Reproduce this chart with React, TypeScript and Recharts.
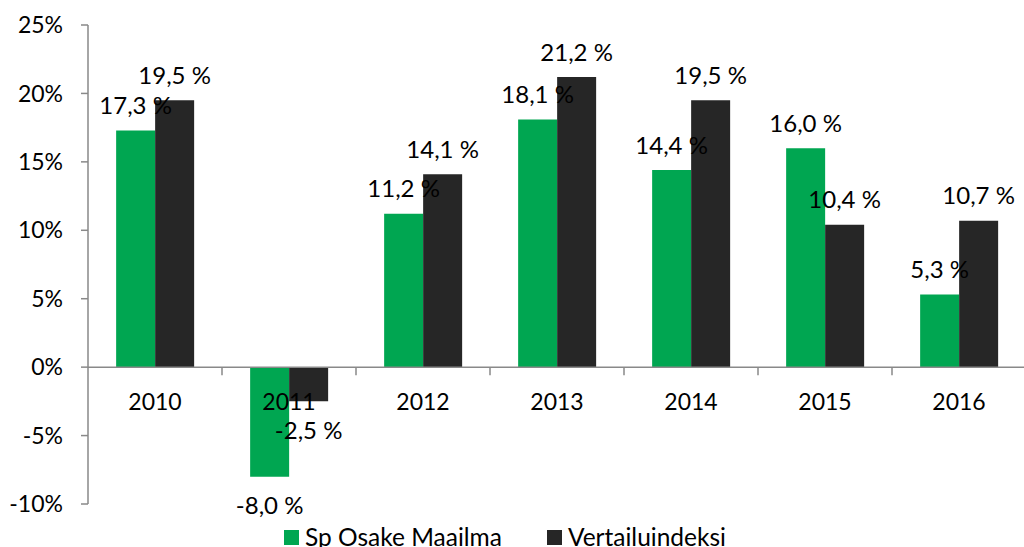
import React from 'react';
import { BarChart, Bar, XAxis, YAxis, ReferenceLine, LabelList } from 'recharts';

const years = ['2010', '2011', '2012', '2013', '2014', '2015', '2016'];
const fundValues = [17.3, -8.0, 11.2, 18.1, 14.4, 16.0, 5.3];
const indexValues = [19.5, -2.5, 14.1, 21.2, 19.5, 10.4, 10.7];
const yTicks = [-10, -5, 0, 5, 10, 15, 20, 25];
const seriesNames = ['Sp Osake Maailma', 'Vertailuindeksi'];

const data = years.map((y, i) => ({ year: y, fund: fundValues[i], index: indexValues[i] }));

const FONT = 'Lato, "DejaVu Sans", sans-serif';
const GREEN = '#00A651';
const DARK = '#262626';
const AXIS = '#898989';
const FS = 23;
const LABEL_FS = 24;
const LEGEND_FS = 24.5;

const fmt = (v: number) => `${v.toFixed(1).replace('.', ',')} %`;

function BarLabel(props: any) {
  const { x, y, width, height, value } = props;
  const top = Math.min(y, y + height);
  const bottom = Math.max(y, y + height);
  const cx = x + width / 2;
  const cy = value >= 0 ? top - 26 : bottom + 28;
  return (
    <text x={cx} y={cy} textAnchor="middle" dominantBaseline="central" fontSize={LABEL_FS} fontFamily={FONT} fill="#000">
      {fmt(value)}
    </text>
  );
}

function ZeroAxis(props: any) {
  const { x1, y1, x2 } = props;
  const n = years.length;
  const step = (x2 - x1) / n;
  return (
    <g>
      <line x1={x1} y1={y1} x2={x2} y2={y1} stroke={AXIS} strokeWidth={1.5} />
      {years.map((_, i) => (
        <line key={'t' + i} x1={x1 + (i + 1) * step} y1={y1} x2={x1 + (i + 1) * step} y2={y1 + 8} stroke={AXIS} strokeWidth={1.5} />
      ))}
      {years.map((yr, i) => (
        <text key={yr} x={x1 + (i + 0.5) * step} y={y1 + 34} textAnchor="middle" dominantBaseline="central" fontSize={FS} fontFamily={FONT} fill="#000">
          {yr}
        </text>
      ))}
    </g>
  );
}

export default function App() {
  const colors = [GREEN, DARK];
  return (
    <div style={{ position: 'absolute', left: 0, top: 0, width: 1024, height: 547, overflow: 'hidden', background: '#fff' }}>
      <BarChart
        width={1040}
        height={547}
        data={data}
        margin={{ top: 25, right: 14, bottom: 43, left: 8 }}
        barCategoryGap="21%"
        barGap={0}
      >
        <XAxis dataKey="year" hide />
        <YAxis
          width={80}
          domain={[-10, 25]}
          ticks={yTicks}
          interval={0}
          tickFormatter={(v: number) => `${v}%`}
          axisLine={{ stroke: AXIS, strokeWidth: 1.5 }}
          tickLine={{ stroke: AXIS, strokeWidth: 1.5 }}
          tickSize={7}
          tickMargin={18}
          tick={{ fontSize: FS, fontFamily: FONT, fill: '#000' }}
        />
        <Bar dataKey="fund" fill={GREEN} isAnimationActive={false}>
          <LabelList dataKey="fund" content={BarLabel} />
        </Bar>
        <Bar dataKey="index" fill={DARK} isAnimationActive={false}>
          <LabelList dataKey="index" content={BarLabel} />
        </Bar>
        <ReferenceLine y={0} shape={ZeroAxis} ifOverflow="visible" />
      </BarChart>
      <div
        style={{
          position: 'absolute',
          left: 284,
          top: 524,
          display: 'flex',
          alignItems: 'center',
          fontFamily: FONT,
          fontSize: LEGEND_FS,
          color: '#000',
          whiteSpace: 'nowrap',
          lineHeight: '26px',
        }}
      >
        {seriesNames.map((name, i) => (
          <div key={name} style={{ display: 'flex', alignItems: 'center', marginRight: i === 0 ? 45 : 0 }}>
            <div style={{ width: 15, height: 15, background: colors[i], marginRight: 6 }} />
            <span>{name}</span>
          </div>
        ))}
      </div>
    </div>
  );
}
